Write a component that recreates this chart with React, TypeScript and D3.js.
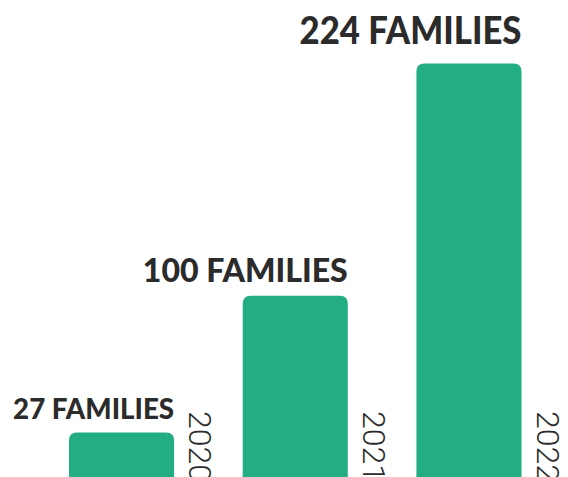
import React from "react";
import * as d3 from "d3";

const years = ["2020", "2021", "2022"];
const families = [27, 100, 224];
const labels = ["27 FAMILIES", "100 FAMILIES", "224 FAMILIES"];

const W = 568;
const H = 477;
const GREEN = "#22ae82";
const DARK = "#2b2b2b";

export default function App() {
  const x = d3
    .scaleBand<string>()
    .domain(years)
    .range([69, 521.5])
    .paddingInner(0.395)
    .paddingOuter(0);
  const y = d3.scaleLinear().domain([0, 224]).range([483, 63.5]);
  const bw = x.bandwidth();
  const r = 8;
  const labelSizes = [28, 31.5, 38];
  const labelWidth = [161, 205, 222];
  const labelGap = [13.5, 13.5, 20];

  const barPath = (x0: number, top: number, w: number) => {
    const bottom = H + 20;
    return `M${x0},${bottom} L${x0},${top + r} Q${x0},${top} ${x0 + r},${top} L${x0 + w - r},${top} Q${x0 + w},${top} ${x0 + w},${top + r} L${x0 + w},${bottom} Z`;
  };

  return (
    <svg
      width={W}
      height={H}
      style={{ position: "absolute", left: 0, top: 0, background: "#fff" }}
    >
      {years.map((yr, i) => {
        const x0 = x(yr)!;
        const top = y(families[i]);
        return (
          <g key={yr}>
            <path d={barPath(x0, top, bw)} fill={GREEN} />
            <text
              x={x0 + bw}
              y={top - labelGap[i]}
              textAnchor="end"
              fontFamily="Lato, 'DejaVu Sans', sans-serif"
              fontWeight={900}
              fontSize={labelSizes[i]}
              fill={DARK}
              textLength={labelWidth[i]}
              lengthAdjust="spacingAndGlyphs"
            >
              {labels[i]}
            </text>
            <text
              transform={`translate(${x0 + bw + 15},${411}) rotate(90)`}
              fontFamily="Roboto, sans-serif"
              fontWeight={300}
              fontSize={32}
              fill={DARK}
            >
              {yr}
            </text>
          </g>
        );
      })}
    </svg>
  );
}
